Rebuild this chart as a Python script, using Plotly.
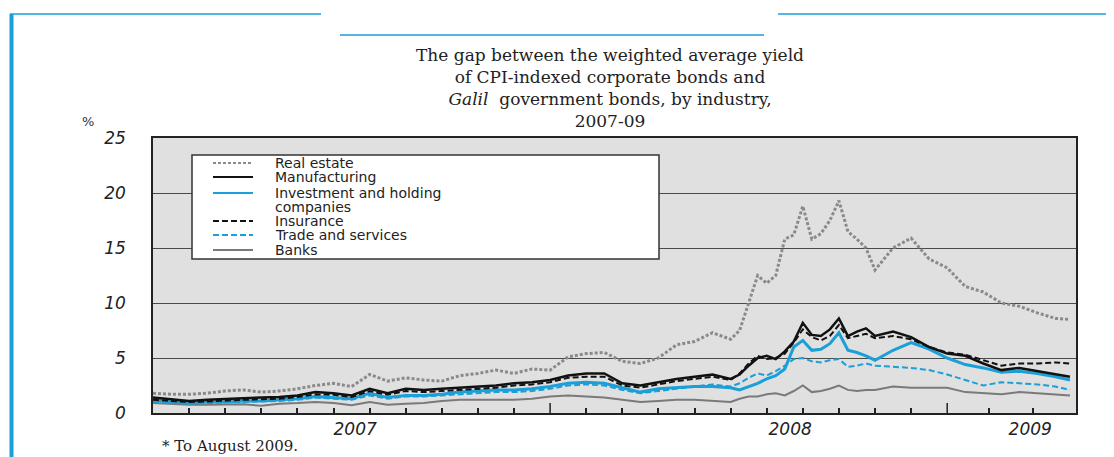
import plotly.graph_objects as go

# x positions in tick units (one unit = one minor tick interval on the original axis)
period = [0, 0.5, 1, 1.5, 2, 2.5, 3, 3.5, 4, 4.5, 5, 5.5, 6, 6.5, 7, 7.5, 8, 8.5,
          9, 9.5, 10, 10.5, 11, 11.5, 12, 12.5, 13, 13.5, 14, 14.5, 15, 15.5, 16,
          16.25, 16.5, 16.75, 17, 17.25, 17.5, 17.75, 18, 18.25, 18.5, 18.75, 19,
          19.25, 19.5, 19.75, 20, 20.5, 21, 21.5, 22, 22.5, 23, 23.5, 24, 24.5, 25, 25.4]

real_estate = [1.8, 1.7, 1.7, 1.8, 2.0, 2.1, 1.9, 2.0, 2.2, 2.5, 2.7, 2.4, 3.5, 2.9, 3.2, 3.0, 2.9,
               3.4, 3.6, 3.9, 3.6, 4.0, 3.9, 5.1, 5.4, 5.5, 4.7, 4.5, 5.0, 6.2, 6.5, 7.3, 6.7,
               7.5, 10.0, 12.5, 11.8, 12.5, 15.8, 16.2, 18.8, 15.8, 16.3, 17.5, 19.3, 16.5, 15.8,
               15.0, 13.0, 15.0, 15.9, 14.0, 13.2, 11.5, 11.0, 10.0, 9.7, 9.1, 8.6, 8.5]
manufacturing = [1.4, 1.25, 1.1, 1.2, 1.3, 1.35, 1.4, 1.45, 1.6, 1.9, 1.8, 1.6, 2.2, 1.8, 2.2, 2.1,
                 2.2, 2.3, 2.4, 2.5, 2.7, 2.8, 3.0, 3.4, 3.6, 3.6, 2.7, 2.5, 2.8, 3.1, 3.3, 3.5, 3.1,
                 3.5, 4.3, 5.0, 5.2, 4.9, 5.6, 6.5, 8.2, 7.1, 7.0, 7.6, 8.6, 7.0, 7.4, 7.7, 7.0,
                 7.4, 6.9, 6.0, 5.4, 5.2, 4.5, 3.9, 4.1, 3.8, 3.5, 3.3]
investment = [1.2, 1.0, 0.9, 1.0, 1.0, 1.1, 1.1, 1.2, 1.3, 1.5, 1.4, 1.3, 1.8, 1.4, 1.6, 1.6, 1.7,
              1.9, 2.0, 2.1, 2.1, 2.2, 2.4, 2.7, 2.8, 2.7, 2.3, 1.9, 2.2, 2.3, 2.4, 2.4, 2.3,
              2.1, 2.4, 2.7, 3.1, 3.4, 4.0, 6.0, 6.6, 5.7, 5.8, 6.3, 7.3, 5.7, 5.5, 5.2, 4.8,
              5.7, 6.4, 5.8, 5.0, 4.4, 4.1, 3.7, 3.8, 3.6, 3.3, 3.0]
insurance = [1.2, 1.1, 1.0, 1.05, 1.15, 1.2, 1.25, 1.3, 1.45, 1.7, 1.65, 1.45, 2.0, 1.65, 2.0, 1.9,
             2.0, 2.1, 2.2, 2.3, 2.5, 2.6, 2.8, 3.2, 3.3, 3.3, 2.5, 2.3, 2.6, 2.9, 3.1, 3.3, 3.0,
             3.6, 4.5, 5.2, 4.9, 5.0, 5.4, 6.4, 7.6, 6.9, 6.6, 7.0, 8.0, 6.8, 7.0, 7.2, 6.8,
             7.0, 6.7, 6.0, 5.5, 5.3, 4.8, 4.3, 4.5, 4.5, 4.6, 4.5]
trade = [1.0, 0.9, 0.85, 0.9, 0.95, 1.0, 1.0, 1.1, 1.2, 1.4, 1.3, 1.2, 1.6, 1.3, 1.5, 1.5, 1.6,
         1.7, 1.8, 1.9, 1.9, 2.0, 2.2, 2.5, 2.6, 2.5, 2.1, 1.8, 2.0, 2.2, 2.4, 2.6, 2.4,
         2.7, 3.2, 3.6, 3.4, 3.8, 4.3, 4.9, 5.0, 4.7, 4.6, 4.8, 4.9, 4.2, 4.3, 4.5, 4.3,
         4.2, 4.1, 3.9, 3.5, 3.0, 2.5, 2.8, 2.7, 2.6, 2.4, 2.1]
banks = [0.9, 0.8, 0.75, 0.75, 0.75, 0.8, 0.65, 0.85, 0.9, 1.0, 0.9, 0.7, 1.0, 0.75, 0.85, 0.9,
         1.1, 1.2, 1.2, 1.2, 1.2, 1.3, 1.5, 1.6, 1.5, 1.4, 1.2, 1.0, 1.1, 1.2, 1.2, 1.1, 1.0,
         1.3, 1.5, 1.5, 1.7, 1.8, 1.6, 2.0, 2.5, 1.9, 2.0, 2.2, 2.5, 2.1, 2.0, 2.1, 2.1,
         2.4, 2.3, 2.3, 2.3, 1.9, 1.8, 1.7, 1.9, 1.8, 1.7, 1.6]

year_labels = ["2007", "2008", "2009"]
year_pos = [5.6, 17.65, 24.3]
minor_ticks = [1, 2, 3, 4, 5, 6, 7, 8, 9, 10, 12, 13, 14, 15, 16, 17, 18, 19, 20, 21, 23.16, 24.38]
major_ticks = [11, 22]

title_text = ("The gap between the weighted average yield<br>"
              "of CPI-indexed corporate bonds and<br>"
              "<i>Galil</i>\u00a0 government bonds, by industry,<br>"
              "2007-09")

BLUE = "#1a9fd8"
GRAY = "#8a8a8a"

# line styles: name, values, color, width, dash
series = [
    ("Real estate", real_estate, GRAY, 3, "3px,2px"),
    ("Manufacturing", manufacturing, "#111111", 2.5, "solid"),
    ("Investment and holding", investment, BLUE, 3, "solid"),
    ("Insurance", insurance, "#111111", 2, "6px,3px"),
    ("Trade and services", trade, BLUE, 2, "6px,3px"),
    ("Banks", banks, "#7a7a7a", 2, "solid"),
]
draw_order = [0, 5, 4, 2, 3, 1]

# plot area in page pixels; the page body adds an 8px margin around the figure
OFF = 8
L, R, T, B = 153, 1076, 138, 413
def px(x):
    return (x - L) / (R - L)
def py(y):
    return (B - y) / (B - T)

fig = go.Figure()
for i in draw_order:
    name, vals, color, width, dash = series[i]
    fig.add_trace(go.Scatter(x=period, y=vals, mode="lines", name=name,
                             line=dict(color=color, width=width, dash=dash),
                             showlegend=False))

shapes = []
annotations = []

# long ticks at year boundaries
for t in major_ticks:
    shapes.append(dict(type="line", xref="x", yref="y", x0=t, x1=t, y0=0, y1=0.9,
                       line=dict(color="#222", width=1.5)))

# hand-built legend box
shapes.append(dict(type="rect", xref="paper", yref="paper", x0=px(192), x1=px(659),
                   y0=py(259), y1=py(155), fillcolor="white", line=dict(color="#333", width=1.5)))
legend_y = [163, 177, 193, 221, 235, 250]
for (name, vals, color, width, dash), yy in zip(series, legend_y):
    shapes.append(dict(type="line", xref="paper", yref="paper", x0=px(213), x1=px(253),
                       y0=py(yy), y1=py(yy),
                       line=dict(color=color, width=min(width, 2), dash=dash)))
    annotations.append(dict(text=name, xref="paper", yref="paper", x=px(273), y=py(yy),
                            xanchor="left", yanchor="middle", showarrow=False,
                            font=dict(family="DejaVu Sans", size=14, color="#222")))
annotations.append(dict(text="companies", xref="paper", yref="paper", x=px(273), y=py(207),
                        xanchor="left", yanchor="middle", showarrow=False,
                        font=dict(family="DejaVu Sans", size=14, color="#222")))

# title block
annotations.append(dict(text=title_text, xref="paper", yref="paper", x=px(610), y=py(88),
                        xanchor="center", yanchor="middle", showarrow=False,
                        font=dict(family="DejaVu Serif", size=17, color="#222")))

annotations.append(dict(text="%", xref="paper", yref="paper", x=px(88), y=py(121),
                        xanchor="center", yanchor="middle", showarrow=False,
                        font=dict(family="DejaVu Sans", size=13, color="#333")))
annotations.append(dict(text="* To August 2009.", xref="paper", yref="paper", x=px(160), y=py(446),
                        xanchor="left", yanchor="middle", showarrow=False,
                        font=dict(family="DejaVu Serif", size=15, color="#222")))

# blue page frame decorations
deco = dict(type="line", xref="paper", yref="paper", line=dict(color=BLUE, width=1.5))
shapes.append(dict(deco, x0=px(11.5), x1=px(11.5), y0=py(14), y1=py(460), line=dict(color=BLUE, width=4)))
shapes.append(dict(deco, x0=px(10), x1=px(321), y0=py(14), y1=py(14)))
shapes.append(dict(deco, x0=px(340), x1=px(764), y0=py(35), y1=py(35)))
shapes.append(dict(deco, x0=px(778), x1=px(1114), y0=py(14), y1=py(14)))

fig.update_layout(
    width=1114 - OFF, height=457 - OFF,
    margin=dict(l=L - OFF, r=1114 - R, t=T - OFF, b=457 - B),
    paper_bgcolor="white",
    plot_bgcolor="#e0e0e0",
    shapes=shapes,
    annotations=annotations,
    xaxis=dict(range=[0, (R - L) / 36.1], showgrid=False, zeroline=False,
               showline=True, linecolor="#222", linewidth=1.5, mirror=True,
               tickmode="array", tickvals=year_pos, ticktext=year_labels, ticks="",
               ticklen=0,
               tickfont=dict(family="DejaVu Sans", size=17, color="#222", style="italic"),
               minor=dict(tickmode="array", tickvals=minor_ticks, ticks="inside",
                          ticklen=5, tickwidth=1.5, tickcolor="#222", showgrid=False)),
    yaxis=dict(range=[0, 25], tickmode="array", tickvals=[0, 5, 10, 15, 20, 25],
               showgrid=True, gridcolor="#4a4a4a", gridwidth=1, zeroline=False,
               showline=True, linecolor="#222", linewidth=1.5, mirror=True, ticks="",
               ticklabelstandoff=22,
               tickfont=dict(family="DejaVu Sans", size=17, color="#222", style="italic")),
)

fig.write_html("out.html")
